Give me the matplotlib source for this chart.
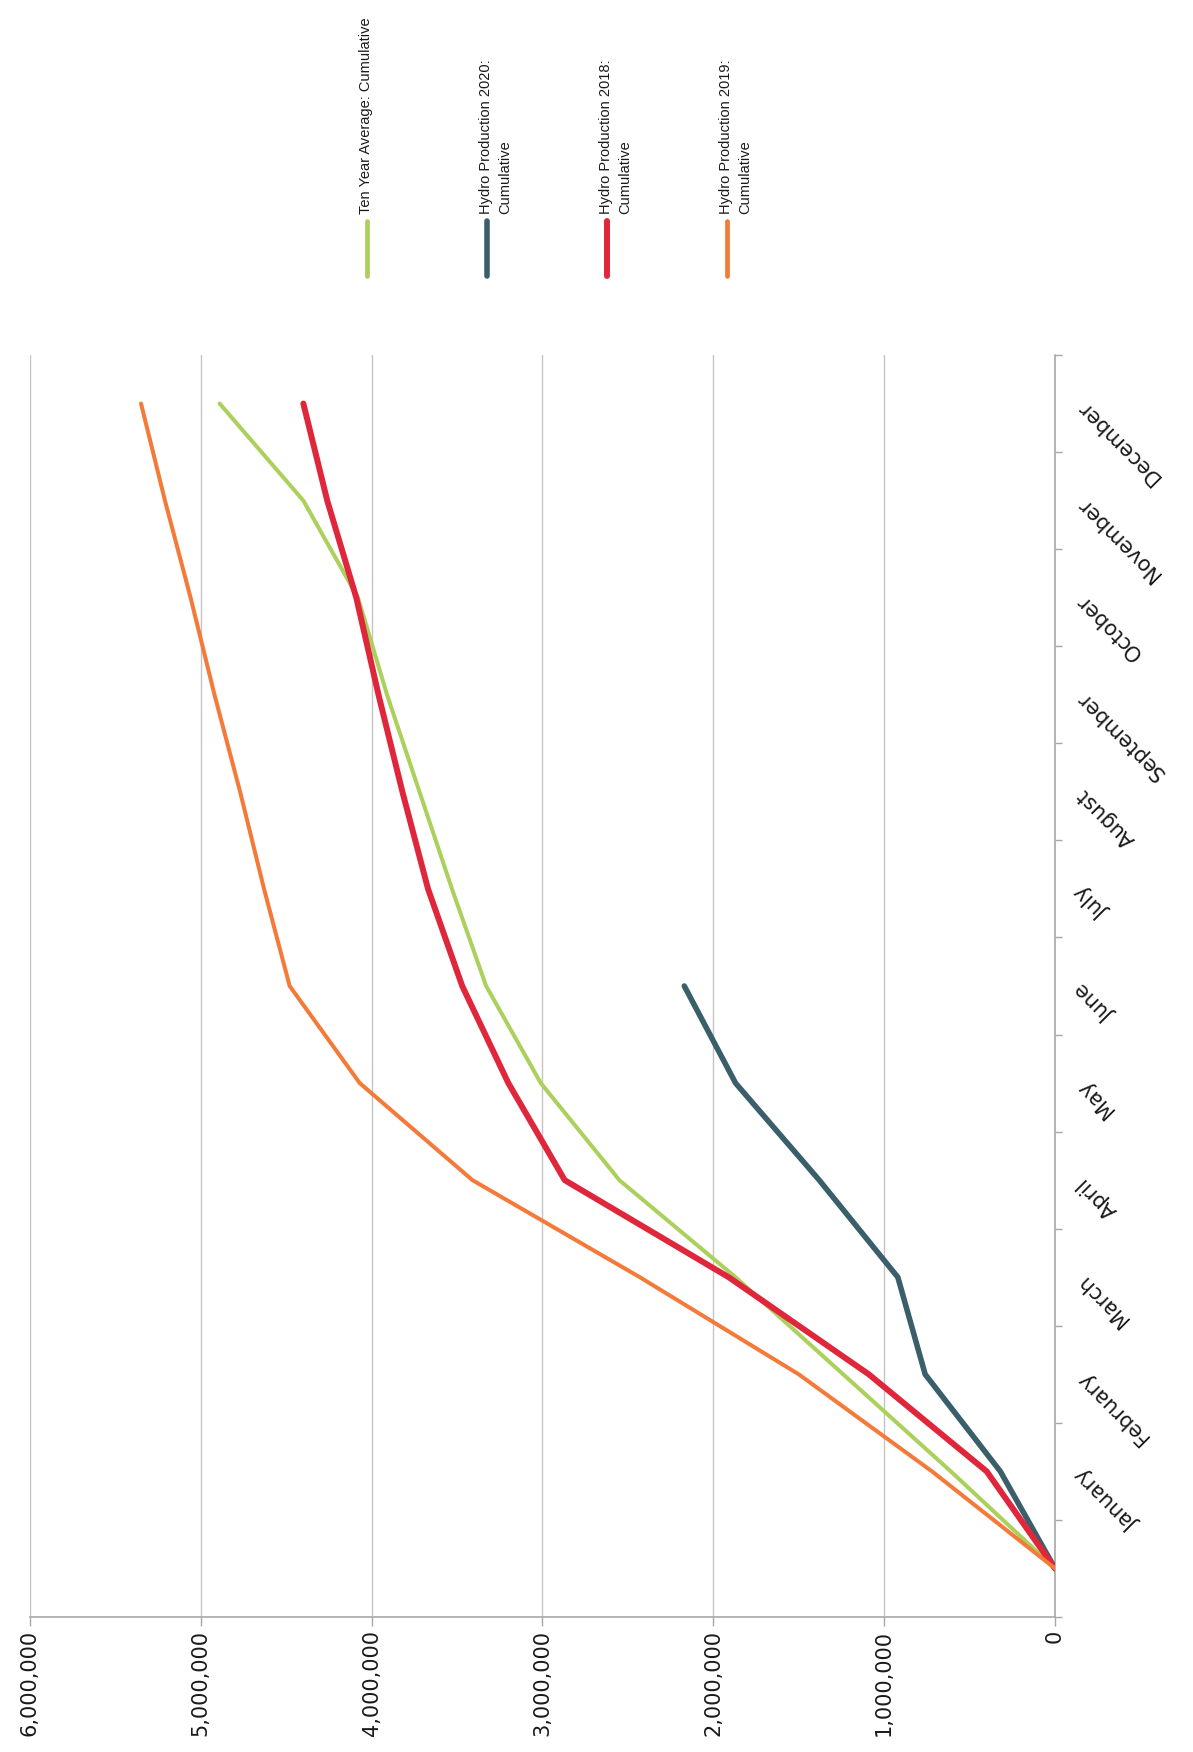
#Cumulative hydro production chart (page scanned sideways)
import numpy as np
import matplotlib.pyplot as plt
from matplotlib.ticker import FuncFormatter

#Data
months = ['', 'January', 'February', 'March', 'April', 'May', 'June',
          'July', 'August', 'September', 'October', 'November', 'December']
ten_year_avg = [0, 610000, 1240000, 1870000, 2550000, 3010000, 3330000,
                3530000, 3720000, 3910000, 4080000, 4400000, 4890000]
hydro_2020 = [0, 320000, 760000, 920000, 1380000, 1870000, 2170000]
hydro_2018 = [0, 400000, 1090000, 1910000, 2870000, 3200000, 3470000,
              3670000, 3820000, 3960000, 4090000, 4260000, 4400000]
hydro_2019 = [0, 720000, 1500000, 2430000, 3410000, 4070000, 4480000,
              4630000, 4770000, 4920000, 5060000, 5210000, 5350000]
value_ticks = [0, 1000000, 2000000, 3000000, 4000000, 5000000, 6000000]
legend_labels = ['Ten Year Average: Cumulative',
                 'Hydro Production 2020:\nCumulative',
                 'Hydro Production 2018:\nCumulative',
                 'Hydro Production 2019:\nCumulative']

#Colours and widths
colors = ['#abd05c', '#3a5f6b', '#e0263b', '#f47a3a']
widths = [2.9, 4.0, 4.3, 2.9]
grey = '#a8a8a8'

W, H = 1193, 1752
fig = plt.figure(figsize=(W / 100, H / 100), dpi=100)
fig.patch.set_facecolor('white')

#Plot area in pixel terms
left, right, top, bottom = 30, 1055, 355, 1617
ax = fig.add_axes([left / W, 1 - bottom / H, (right - left) / W, (bottom - top) / H])

series = [ten_year_avg, hydro_2020, hydro_2018, hydro_2019]
for vals, c, lw in zip(series, colors, widths):
    ax.plot(vals, np.arange(len(vals)), color=c, lw=lw,
            solid_joinstyle='round', solid_capstyle='round', zorder=3)

#Value axis runs right to left
ax.set_xlim(6000000, 0)
ax.set_ylim(-0.5, len(months) - 0.5)

ax.set_xticks(value_ticks)
ax.xaxis.set_major_formatter(FuncFormatter(lambda v, p: '{:,.0f}'.format(v)))
ax.tick_params(axis='x', length=6.5, width=1, color=grey, pad=3,
               labelsize=15, labelcolor='#1a1a1a', labelrotation=90)
ax.grid(axis='x', color='#c4c4c4', lw=1, zorder=0)

#Month axis on the right side
ax.yaxis.tick_right()
ax.set_yticks(np.arange(1, len(months)))
ax.set_yticklabels(months[1:])
ax.set_yticks(np.arange(-0.5, len(months), 1), minor=True)
ax.tick_params(axis='y', which='major', length=0, pad=18, labelsize=15,
               labelcolor='#1a1a1a')
ax.tick_params(axis='y', which='minor', length=5, width=1, color=grey,
               direction='out')
for lab in ax.get_yticklabels():
    lab.set_rotation(135)
    lab.set_rotation_mode('anchor')
    lab.set_ha('right')
    lab.set_va('center')

for s in ['top', 'left']:
    ax.spines[s].set_visible(False)
for s in ['right', 'bottom']:
    ax.spines[s].set_color(grey)
    ax.spines[s].set_linewidth(1.2)

#Legend drawn sideways along the top
leg_x = [367, 487, 607, 727]
for x, c, lw, lab in zip(leg_x, colors, widths, legend_labels):
    fig.add_artist(plt.Line2D([x / W, x / W], [1 - 221 / H, 1 - 276 / H],
                              color=c, lw=max(lw, 3.4), solid_capstyle='round'))
    fig.text((x - 8) / W, 1 - 214 / H, lab, rotation=90, rotation_mode='anchor',
             ha='left', va='top', multialignment='left', linespacing=1.45,
             fontsize=10.5, family='Liberation Sans', color='#1a1a1a')

fig.savefig('out.png', dpi=100)
